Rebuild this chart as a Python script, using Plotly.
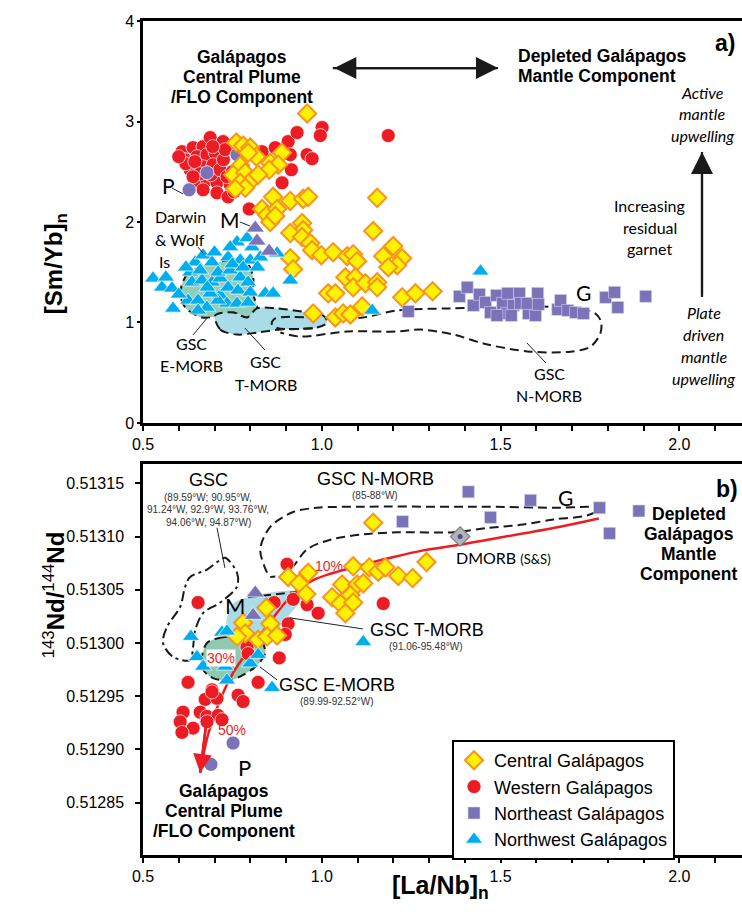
import plotly.graph_objects as go

# ---------------- panel a: [Sm/Yb]n vs [La/Nb]n ----------------
western_a = [(0.609, 2.70), (0.640, 2.74), (0.668, 2.75), (0.688, 2.84), (0.724, 2.80),
             (0.618, 2.62), (0.651, 2.65), (0.679, 2.67), (0.702, 2.69), (0.632, 2.52),
             (0.668, 2.55), (0.696, 2.57), (0.651, 2.40), (0.679, 2.42), (0.707, 2.39),
             (0.668, 2.32), (0.707, 2.29), (0.738, 2.25), (0.744, 2.37), (0.833, 2.70),
             (0.870, 2.74), (0.906, 2.80), (0.931, 2.89), (1.001, 2.94), (0.996, 2.86),
             (0.912, 2.67), (0.959, 2.67), (0.973, 2.63), (0.915, 2.52), (0.889, 2.39),
             (0.797, 2.13), (1.186, 2.86), (0.620, 2.58), (0.645, 2.60), (0.660, 2.48),
             (0.690, 2.47), (0.715, 2.52), (0.725, 2.62), (0.735, 2.45), (0.640, 2.45),
             (0.600, 2.65), (0.730, 2.72), (0.695, 2.75), (0.755, 2.30), (0.750, 2.50),
             (0.760, 2.40)]

central_a = [(0.959, 3.08), (0.761, 2.79), (0.780, 2.76), (0.800, 2.74), (0.817, 2.65),
             (0.794, 2.69), (0.889, 2.69), (0.856, 2.59), (0.878, 2.57), (0.853, 2.52),
             (0.772, 2.56), (0.752, 2.47), (0.786, 2.49), (0.805, 2.42), (0.822, 2.47),
             (0.772, 2.39), (0.786, 2.34), (0.758, 2.33), (0.864, 2.25), (0.912, 2.21),
             (0.948, 2.23), (0.962, 2.25), (1.155, 2.24), (0.833, 2.13), (0.847, 2.07),
             (0.875, 2.13), (0.856, 2.00), (0.870, 2.06), (0.945, 1.99), (0.948, 1.92),
             (1.144, 1.91), (0.912, 1.89), (0.945, 1.85), (0.968, 1.79), (0.973, 1.72),
             (0.999, 1.67), (1.032, 1.70), (1.071, 1.66), (1.088, 1.68), (1.099, 1.61),
             (1.066, 1.45), (1.094, 1.45), (1.088, 1.35), (1.122, 1.39), (1.155, 1.40),
             (1.155, 1.35), (1.200, 1.76), (1.172, 1.66), (1.225, 1.64), (1.211, 1.57),
             (1.186, 1.55), (0.912, 1.64), (0.920, 1.53), (1.018, 1.29), (1.038, 1.29),
             (1.225, 1.25), (1.262, 1.29), (1.310, 1.31), (1.113, 1.16), (0.976, 1.09),
             (1.038, 1.05), (1.060, 1.09), (1.080, 1.08)]

northwest_a = [(0.528, 1.44), (0.553, 1.35), (0.581, 1.34), (0.564, 1.45), (0.584, 1.14),
               (0.632, 1.50), (0.637, 1.40), (0.646, 1.60), (0.668, 1.67), (0.693, 1.60),
               (0.665, 1.42), (0.693, 1.40), (0.716, 1.44), (0.710, 1.50), (0.626, 1.22),
               (0.654, 1.22), (0.679, 1.15), (0.654, 1.12), (0.716, 1.27), (0.738, 1.65),
               (0.763, 1.80), (0.744, 1.75), (0.772, 1.62), (0.800, 1.62), (0.805, 1.75),
               (0.791, 1.84), (0.744, 1.52), (0.772, 1.45), (0.738, 1.35), (0.766, 1.32),
               (0.794, 1.40), (0.800, 1.30), (0.735, 1.19), (0.763, 1.19), (0.794, 1.20),
               (0.842, 1.29), (0.864, 1.29), (0.875, 1.69), (0.912, 1.42), (0.828, 1.65),
               (0.710, 1.22), (0.688, 1.29), (0.620, 1.55), (0.660, 1.52), (0.700, 1.70),
               (0.750, 1.58), (0.680, 1.35), (0.780, 1.55), (0.820, 1.55), (0.600, 1.28),
               (1.141, 1.12), (1.444, 1.51)]

northeast_a = [(1.385, 1.26), (1.407, 1.35), (1.424, 1.17), (1.441, 1.28), (1.458, 1.20),
               (1.472, 1.10), (1.489, 1.27), (1.506, 1.19), (1.520, 1.29), (1.517, 1.09),
               (1.536, 1.17), (1.553, 1.29), (1.556, 1.19), (1.578, 1.09), (1.575, 1.19),
               (1.598, 1.07), (1.604, 1.29), (1.606, 1.18), (1.660, 1.13), (1.668, 1.22),
               (1.688, 1.12), (1.710, 1.10), (1.732, 1.09), (1.794, 1.25), (1.819, 1.30),
               (1.828, 1.15), (1.906, 1.26), (1.490, 1.07), (1.530, 1.07), (1.242, 1.11)]

pinta_a = [(0.763, 2.67), (0.679, 2.49), (0.629, 2.32)]
marchena_a = [(0.814, 1.94), (0.819, 1.81), (0.853, 1.71)]

# GSC fields, panel a
emorb_a = [(0.702, 1.59), (0.626, 1.49), (0.604, 1.29), (0.618, 1.15), (0.665, 1.05),
           (0.716, 1.07), (0.752, 1.10), (0.791, 1.05), (0.819, 1.12), (0.808, 1.29),
           (0.808, 1.45), (0.791, 1.59), (0.744, 1.62)]
tmorb_a = [(0.702, 1.07), (0.716, 0.93), (0.763, 0.88), (0.819, 0.90), (0.884, 0.93),
           (0.987, 0.95), (1.015, 1.00), (1.004, 1.07), (0.959, 1.10), (0.875, 1.14),
           (0.819, 1.14), (0.791, 1.05), (0.752, 1.10)]
tmorb_inner_a = [(0.990, 1.045), (0.870, 1.040), (0.860, 0.990), (0.875, 0.945), (0.990, 0.945)]
nmorb_a = [(1.024, 1.04), (1.116, 1.05), (1.211, 1.12), (1.360, 1.14), (1.500, 1.15),
           (1.620, 1.16), (1.761, 1.10), (1.780, 1.02), (1.780, 0.90), (1.752, 0.76),
           (1.696, 0.71), (1.584, 0.71), (1.464, 0.78), (1.368, 0.88), (1.276, 0.93),
           (1.211, 0.91), (1.071, 0.91), (0.940, 0.86), (0.884, 0.90)]

# ---------------- panel b: 143Nd/144Nd vs [La/Nb]n ----------------
western_b = [(0.903, 0.513074), (0.654, 0.513038), (0.867, 0.513038), (0.920, 0.513041),
             (0.959, 0.513036), (0.990, 0.513028), (1.172, 0.513037), (0.906, 0.513018),
             (0.898, 0.513008), (0.791, 0.512996), (0.794, 0.512990), (0.881, 0.512986),
             (0.626, 0.512963), (0.693, 0.512956), (0.674, 0.512947), (0.707, 0.512948),
             (0.766, 0.512951), (0.780, 0.512945), (0.822, 0.512963), (0.612, 0.512935),
             (0.660, 0.512935), (0.679, 0.512931), (0.710, 0.512932), (0.604, 0.512926),
             (0.640, 0.512920), (0.609, 0.512916), (0.679, 0.512926), (0.721, 0.512928),
             (0.693, 0.512954)]

central_b = [(1.144, 0.513113), (0.906, 0.513062), (0.937, 0.513056), (0.962, 0.513066),
             (0.957, 0.513046), (1.088, 0.513072), (1.133, 0.513071), (1.158, 0.513067),
             (1.178, 0.513071), (1.214, 0.513063), (1.254, 0.513061), (1.293, 0.513076),
             (1.057, 0.513055), (1.099, 0.513055), (1.116, 0.513056), (1.029, 0.513043),
             (1.052, 0.513037), (1.080, 0.513045), (1.088, 0.513038), (1.066, 0.513028),
             (0.845, 0.513033), (0.780, 0.513019), (0.856, 0.513018), (0.786, 0.513009),
             (0.763, 0.513006), (0.822, 0.513003), (0.847, 0.513006), (0.875, 0.513007)]

northwest_b = [(0.634, 0.513006), (0.721, 0.513010), (0.735, 0.513011), (0.651, 0.512987),
               (0.668, 0.512978), (0.730, 0.512978), (0.735, 0.512965), (0.800, 0.512981),
               (0.822, 0.512989), (0.861, 0.512958), (1.116, 0.513001)]

northeast_b = [(1.410, 0.513142), (1.584, 0.513134), (1.472, 0.513118), (1.777, 0.513127),
               (1.805, 0.513103), (1.887, 0.513124), (1.226, 0.513114)]

pinta_b = [(0.752, 0.512906), (0.690, 0.512886)]
marchena_b = [(0.814, 0.513047), (0.808, 0.513026)]
dmorb_b = [(1.387, 0.513100)]

# mixing curve between plume (FLO) and depleted mantle components
mixing_b = [(0.660, 0.512878), (0.682, 0.512914), (0.716, 0.512947), (0.752, 0.512972),
            (0.786, 0.512989), (0.822, 0.513005), (0.856, 0.513020), (0.898, 0.513038),
            (0.934, 0.513050), (0.976, 0.513059), (1.024, 0.513065), (1.099, 0.513072),
            (1.192, 0.513080), (1.284, 0.513087), (1.380, 0.513092), (1.464, 0.513097),
            (1.648, 0.513108), (1.775, 0.513117)]

# GSC fields, panel b
gsc_b = [(0.730, 0.513080), (0.763, 0.513066), (0.763, 0.513053), (0.716, 0.513038),
         (0.668, 0.513028), (0.646, 0.513012), (0.640, 0.512996), (0.632, 0.512984),
         (0.584, 0.512987), (0.556, 0.513000), (0.567, 0.513015), (0.604, 0.513034),
         (0.618, 0.513053), (0.632, 0.513062), (0.679, 0.513069), (0.716, 0.513078)]
nmorb_b = [(0.847, 0.513066), (0.828, 0.513088), (0.856, 0.513109), (0.920, 0.513123),
           (0.987, 0.513127), (1.116, 0.513128), (1.360, 0.513128), (1.464, 0.513128),
           (1.648, 0.513127), (1.780, 0.513127), (1.744, 0.513120), (1.648, 0.513116),
           (1.556, 0.513111), (1.464, 0.513108), (1.368, 0.513104), (1.211, 0.513104),
           (1.116, 0.513102), (1.024, 0.513097), (0.959, 0.513088), (0.920, 0.513072),
           (0.892, 0.513064), (0.856, 0.513062)]
tmorb_b = [(0.794, 0.513043), (0.931, 0.513048), (0.934, 0.513038), (0.898, 0.513022),
           (0.856, 0.513006), (0.791, 0.512998), (0.735, 0.513012), (0.749, 0.513036)]
tmorb_top_edge_b = [(0.794, 0.513043), (0.931, 0.513048)]
emorb_b = [(0.679, 0.513000), (0.716, 0.513005), (0.772, 0.513006), (0.828, 0.513003),
           (0.842, 0.512991), (0.819, 0.512979), (0.780, 0.512970), (0.744, 0.512965),
           (0.696, 0.512967), (0.668, 0.512975), (0.665, 0.512987)]

XRANGE = [0.5, 2.1755]
Y1RANGE = [0, 4]
Y2RANGE = [0.51280085, 0.5131681]

# ---------------- styles ----------------
RED = "#ed1c24"
PURPLE = "#7a73b8"
BLUE = "#00aeef"
ARIAL = "Liberation Sans"
CALI = "Lato"

STYLE = {
    "Central Galápagos": dict(symbol="diamond", size=14, color="#fff200",
                              line=dict(color="#f7941d", width=2)),
    "Western Galápagos": dict(symbol="circle", size=14, color=RED,
                              line=dict(color="white", width=0.7)),
    "Northeast Galápagos": dict(symbol="square", size=12, color=PURPLE,
                                line=dict(color="#d8d6ee", width=0.6)),
    "Northwest Galápagos": dict(symbol="triangle-up", size=15, color=BLUE,
                                line=dict(color="white", width=0.7)),
}
RANK = {"Central Galápagos": 1, "Western Galápagos": 2,
        "Northeast Galápagos": 3, "Northwest Galápagos": 4}

fig = go.Figure()


def xs(pts):
    return [p[0] for p in pts]


def ys(pts):
    return [p[1] for p in pts]


def field(pts, xa, ya, fill=None, dash="9px,5px", closed=True, width=2.0):
    px, py = xs(pts), ys(pts)
    if closed:
        px, py = px + [px[0]], py + [py[0]]
    fig.add_trace(go.Scatter(
        x=px, y=py, xaxis=xa, yaxis=ya, mode="lines",
        line=dict(color="#1a1a1a", width=width, dash=dash, shape="spline", smoothing=0.9),
        fill="toself" if fill else "none", fillcolor=fill,
        hoverinfo="skip", showlegend=False))


def points(pts, xa, ya, name, legend=False):
    fig.add_trace(go.Scatter(
        x=xs(pts), y=ys(pts), xaxis=xa, yaxis=ya, mode="markers", name=name,
        marker=STYLE[name], showlegend=legend, legendgroup=name,
        legendrank=RANK[name]))


def extra(pts, xa, ya, marker):
    fig.add_trace(go.Scatter(x=xs(pts), y=ys(pts), xaxis=xa, yaxis=ya, mode="markers",
                             marker=marker, showlegend=False, hoverinfo="skip"))


# ---- panel a fields ----
field(emorb_a, "x", "y", fill="#93cdb8")
field(tmorb_a, "x", "y", fill="#a9dce7")
field(tmorb_inner_a, "x", "y", closed=False)
field(nmorb_a, "x", "y", closed=False)

# ---- panel b fields ----
field(tmorb_b, "x2", "y2", fill="#a9dce7", width=0)
field(tmorb_top_edge_b, "x2", "y2", closed=False)
field(emorb_b, "x2", "y2", fill="#8fc9b0")
field(gsc_b, "x2", "y2", dash="10px,4px,3px,4px")
field(nmorb_b, "x2", "y2", closed=False)

# mixing curve
fig.add_trace(go.Scatter(x=xs(mixing_b), y=ys(mixing_b), xaxis="x2", yaxis="y2",
                         mode="lines", line=dict(color=RED, width=2.5, shape="spline"),
                         showlegend=False, hoverinfo="skip"))

# ---- samples, panel a ----
points(western_a, "x", "y", "Western Galápagos", legend=True)
extra(pinta_a, "x", "y", dict(symbol="circle", size=14, color=PURPLE,
                              line=dict(color="white", width=0.7)))
points(central_a, "x", "y", "Central Galápagos", legend=True)
points(northwest_a, "x", "y", "Northwest Galápagos", legend=True)
points(northeast_a, "x", "y", "Northeast Galápagos", legend=True)
extra(marchena_a, "x", "y", dict(symbol="triangle-up", size=16, color=PURPLE,
                                 line=dict(color="white", width=0.7)))

# ---- samples, panel b ----
points(western_b, "x2", "y2", "Western Galápagos")
extra(pinta_b, "x2", "y2", dict(symbol="circle", size=14, color=PURPLE,
                                line=dict(color="white", width=0.7)))
points(central_b, "x2", "y2", "Central Galápagos")
points(northwest_b, "x2", "y2", "Northwest Galápagos")
points(northeast_b, "x2", "y2", "Northeast Galápagos")
extra(marchena_b, "x2", "y2", dict(symbol="triangle-up", size=16, color=PURPLE,
                                   line=dict(color="white", width=0.7)))
extra(dmorb_b, "x2", "y2", dict(symbol="diamond", size=15, color="#b4b4b8",
                                line=dict(color="#7d7d85", width=1.2)))
extra(dmorb_b, "x2", "y2", dict(symbol="circle", size=5, color="#4b4f8c"))


# ---------------- text ----------------
def text_block(lines, x, y, xref, yref, size, family=ARIAL, spacing=None, bold=False,
               italic=False, xanchor="center", color="black", bg=None):
    n = len(lines)
    spacing = spacing or size * 1.25
    for i, ln in enumerate(lines):
        t = ln
        if bold:
            t = f"<b>{t}</b>"
        if italic:
            t = f"<i>{t}</i>"
        fig.add_annotation(x=x, y=y, xref=xref, yref=yref, text=t, showarrow=False,
                           xanchor=xanchor, yanchor="middle",
                           yshift=((n - 1) / 2 - i) * spacing,
                           font=dict(family=family, size=size, color=color),
                           bgcolor=bg, borderpad=0)


def leader(x0, y0, x1, y1, xref, yref):
    fig.add_shape(type="line", x0=x0, y0=y0, x1=x1, y1=y1, xref=xref, yref=yref,
                  line=dict(color="#222", width=1))


def arrow(x0, y0, x1, y1, xref, yref, color, width, size, both=False):
    # straight shaft drawn as a line shape, head(s) as annotation arrows
    fig.add_shape(type="line", x0=x0, y0=y0, x1=x1, y1=y1, xref=xref, yref=yref,
                  line=dict(color=color, width=width))
    fig.add_annotation(x=x1, y=y1, ax=x0, ay=y0, xref=xref, yref=yref, axref=xref,
                       ayref=yref, text="", showarrow=True,
                       arrowside="end+start" if both else "end",
                       arrowhead=2, startarrowhead=2, arrowsize=size, startarrowsize=size,
                       arrowwidth=width, arrowcolor=color, standoff=0, startstandoff=0)


# panel a labels
text_block(["Galápagos", "Central Plume", "/FLO Component"], 0.777, 3.443, "x", "y",
           17.5, bold=True, spacing=20)
text_block(["Depleted Galápagos", "Mantle Component"], 1.546, 3.552, "x", "y",
           17.5, bold=True, spacing=20, xanchor="left")
text_block(["a)"], 2.128, 3.781, "x", "y", 23, bold=True)
text_block(["Active", "mantle", "upwelling"], 2.064, 3.075, "x", "y", 16, family=CALI,
           italic=True, spacing=21.5)
text_block(["Increasing", "residual", "garnet"], 1.918, 1.950, "x", "y", 16,
           family=CALI, spacing=21.5)
text_block(["Plate", "driven", "mantle", "upwelling"], 2.069, 0.771, "x", "y", 16,
           family=CALI, italic=True, spacing=21.7)
text_block(["G"], 1.731, 1.294, "x", "y", 21, family=CALI)
text_block(["GSC", "N-MORB"], 1.636, 0.383, "x", "y", 16, family=CALI, spacing=22.7)
text_block(["GSC", "E-MORB"], 0.637, 0.682, "x", "y", 16, family=CALI, spacing=22.7)
text_block(["GSC", "T-MORB"], 0.844, 0.498, "x", "y", 16, family=CALI, spacing=22.5)
text_block(["P"], 0.570, 2.368, "x", "y", 21, family=CALI)
text_block(["M"], 0.743, 2.020, "x", "y", 21, family=CALI)
text_block(["Darwin", "&amp; Wolf", "&nbsp;Is"], 0.531, 1.826, "x", "y", 16, family=CALI,
           spacing=22.5, xanchor="left")

leader(0.581, 2.338, 0.612, 2.279, "x", "y")
leader(0.771, 2.000, 0.799, 1.960, "x", "y")
leader(0.654, 1.750, 0.668, 1.690, "x", "y")
leader(0.640, 0.876, 0.682, 1.055, "x", "y")
leader(0.841, 0.726, 0.785, 0.945, "x", "y")
leader(1.574, 0.796, 1.627, 0.597, "x", "y")

arrow(1.031, 3.532, 1.493, 3.532, "x", "y", "#1a1a1a", 2.2, 2.0, both=True)
arrow(2.0636, 1.254, 2.0636, 2.697, "x", "y", "#1a1a1a", 2.2, 2.0)

# panel b labels
text_block(["GSC"], 0.682, 0.5131533, "x2", "y2", 18)
text_block(["(89.59°W; 90.95°W,", "91.24°W, 92.9°W, 93.76°W,", "94.06°W, 94.87°W)"],
           0.682, 0.5131251, "x2", "y2", 10, spacing=12.3, color="#333")
text_block(["GSC N-MORB"], 1.149, 0.5131542, "x2", "y2", 18)
text_block(["(85-88°W)"], 1.149, 0.5131383, "x2", "y2", 10, color="#333")
text_block(["G"], 1.683, 0.5131364, "x2", "y2", 21, family=CALI)
text_block(["b)"], 2.134, 0.5131449, "x2", "y2", 23, bold=True)
text_block(["Depleted", "Galápagos", "Mantle", "Component"], 2.027, 0.5130931, "x2", "y2",
           17.5, bold=True, spacing=20)
text_block(["DMORB <span style='font-size:13px'>(S&amp;S)</span>"], 1.373, 0.5130800,
           "x2", "y2", 16, family=CALI, xanchor="left")
text_block(["10%"], 1.020, 0.5130725, "x2", "y2", 14, color=RED)
text_block(["30%"], 0.718, 0.5129860, "x2", "y2", 14, color=RED, bg="white")
text_block(["50%"], 0.749, 0.5129183, "x2", "y2", 14, color=RED)
text_block(["M"], 0.757, 0.5130349, "x2", "y2", 22, family=CALI)
text_block(["GSC T-MORB"], 1.132, 0.5130123, "x2", "y2", 18, xanchor="left")
text_block(["(91.06-95.48°W)"], 1.185, 0.5129963, "x2", "y2", 10, xanchor="left",
           color="#333")
text_block(["GSC E-MORB"], 0.878, 0.5129606, "x2", "y2", 18, xanchor="left")
text_block(["(89.99-92.52°W)"], 0.936, 0.5129446, "x2", "y2", 10, xanchor="left",
           color="#333")
text_block(["P"], 0.785, 0.5128826, "x2", "y2", 22, family=CALI)
text_block(["Galápagos", "Central Plume", "/FLO Component"], 0.727, 0.5128422, "x2", "y2",
           17.5, bold=True, spacing=20)

leader(0.707, 0.5131082, 0.729, 0.5130706, "x2", "y2")
leader(0.911, 0.5130236, 1.115, 0.5130132, "x2", "y2")
leader(0.827, 0.5129776, 0.875, 0.5129653, "x2", "y2")

arrow(0.676, 0.512922, 0.660, 0.512878, "x2", "y2", RED, 2.5, 1.5)

# axis titles
fig.add_annotation(x=-0.1753, y=0.772, xref="paper", yref="paper", showarrow=False,
                   text="<b>[Sm/Yb]<sub>n</sub></b>", textangle=-90,
                   font=dict(family=ARIAL, size=24, color="black"))
fig.add_annotation(x=-0.177, y=0.234, xref="paper", yref="paper", showarrow=False,
                   text="<sup>143</sup><b>Nd/</b><sup>144</sup><b>Nd</b>", textangle=-90,
                   font=dict(family=ARIAL, size=24, color="black"))
fig.add_annotation(x=0.497, y=-0.060, xref="paper", yref="paper", showarrow=False,
                   text="<b>[La/Nb]<sub>n</sub></b>",
                   font=dict(family=ARIAL, size=25, color="black"))

# ---------------- axes & layout ----------------
xaxis_common = dict(range=XRANGE, showgrid=False, zeroline=False, showline=True,
                    linewidth=2.5, linecolor="black", mirror=True, ticks="outside",
                    ticklen=5, tickwidth=1.5, tickcolor="black", tick0=0.5, dtick=0.5,
                    tickformat=".1f", tickfont=dict(family=ARIAL, size=16, color="black"),
                    minor=dict(tick0=0.5, dtick=0.1, ticks="outside", ticklen=5,
                               tickwidth=1.5, tickcolor="black"))

fig.update_layout(
    width=742, height=923,
    margin=dict(l=143, r=0, t=21, b=68),
    paper_bgcolor="white", plot_bgcolor="white",
    hovermode=False,
    xaxis=dict(domain=[0, 1], anchor="y", **xaxis_common),
    xaxis2=dict(domain=[0, 1], anchor="y2", **xaxis_common),
    yaxis=dict(domain=[0.518, 1], anchor="x", range=Y1RANGE, dtick=1, showgrid=False,
               zeroline=False, showline=True, linewidth=2.5, linecolor="black",
               ticks="outside", ticklen=3, tickwidth=1.5, tickcolor="black",
               tickfont=dict(family=ARIAL, size=16, color="black")),
    yaxis2=dict(domain=[0, 0.4688], anchor="x2", range=Y2RANGE, tick0=0.51285,
                dtick=0.00005, tickformat=".5f", showgrid=False, zeroline=False,
                showline=True, linewidth=2.5, linecolor="black", ticks="outside",
                ticklen=5, tickwidth=1.5, tickcolor="black", ticklabelstandoff=8,
                tickfont=dict(family=ARIAL, size=16, color="black")),
    legend=dict(x=0.5159, y=0.1379, xanchor="left", yanchor="top", bgcolor="white",
                bordercolor="black", borderwidth=2, tracegroupgap=0,
                font=dict(family=ARIAL, size=18, color="black")),
)

fig.write_html("out.html")
